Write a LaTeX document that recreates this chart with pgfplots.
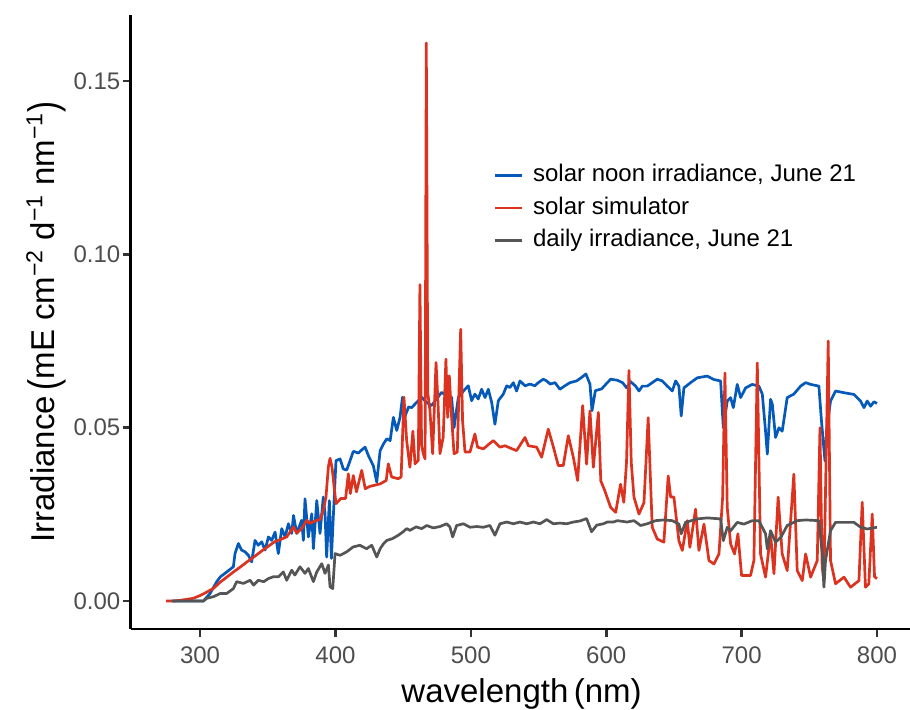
\documentclass[border=0pt]{standalone}
\usepackage{fontspec}
\setmainfont{Liberation Sans}
\usepackage{pgfplots}
\pgfplotsset{compat=1.18}
\definecolor{cblue}{RGB}{5,90,185}
\definecolor{cred}{RGB}{220,50,32}
\definecolor{cgray}{RGB}{85,85,85}
\definecolor{ticklab}{RGB}{77,77,77}
\definecolor{tickcol}{RGB}{51,51,51}
\begin{document}
\begin{tikzpicture}
\begin{axis}[
  scale only axis,
  width=390.9pt, height=307pt,
  xmin=248.75, xmax=826.25, ymin=-0.00805, ymax=0.16905,
  axis x line*=bottom, axis y line*=left,
  axis line style={line width=1.3pt, black, -},
  xtick={300,400,500,600,700,800},
  xticklabels={300,400,500,600,700,800},
  ytick={0,0.05,0.1,0.15},
  yticklabels={0.00,0.05,0.10,0.15},
  tick align=outside,
  major tick length=4pt,
  every tick/.style={line width=1.3pt, tickcol},
  tick label style={font=\fontsize{12}{14}\selectfont, text=ticklab},
  yticklabel style={inner xsep=1pt},
  xticklabel style={inner ysep=4.5pt},
  /pgf/number format/assume math mode=true,
  legend cell align=left,
  legend image code/.code={\draw[#1, line width=1.3pt] (0pt,0pt) -- (13.5pt,0pt);},
  legend style={draw=none, fill=none, at={(rel axis cs:0.4636,0.757)}, anchor=north west,
    font=\fontsize{12}{14}\selectfont, inner sep=0pt, row sep=5.3pt, column sep=2pt,
    nodes={inner xsep=3pt, inner ysep=0pt, text height=8.6pt, text depth=2.4pt}},
  line join=round,
]
\coordinate (SW) at (rel axis cs:0,0);
\coordinate (NE) at (rel axis cs:1,1);
\coordinate (W) at (rel axis cs:0,0.5);
\coordinate (S) at (rel axis cs:0.5,0);

% solar noon irradiance, June 21
\addplot[cblue, line width=1.35pt] coordinates {
(280,0)(290,0)(300,0)(302.4,0)(307.4,0.0022)(312.3,0.0056)(315,0.0070)(319.7,0.0084)
(324.6,0.0099)(325.8,0.0137)(328.3,0.0166)(330.7,0.0147)(333.2,0.0142)(335.7,0.0132)
(338.1,0.0113)(340.6,0.0175)(343,0.0161)(345.5,0.0171)(348,0.0147)(350.5,0.0185)
(352.9,0.0175)(355.4,0.0199)(357.8,0.0137)(360.3,0.0209)(362.8,0.0185)(365.2,0.0223)
(367.7,0.0195)(369,0.0247)(371.4,0.0195)(375,0.0233)(376.3,0.0175)(377.5,0.0295)
(380,0.0185)(382.5,0.0252)(383.7,0.0151)(386.2,0.0290)(388.6,0.0195)(391,0.0300)
(392.3,0.0252)(393.5,0.0127)(395.5,0.0290)(397.0,0.0123)(398.5,0.0250)(400.4,0.0405)
(403.4,0.0410)(405.8,0.0381)(408.3,0.0378)(410.8,0.0405)(413.2,0.0432)(416.9,0.0427)
(419.4,0.0436)(421.9,0.0444)(424.3,0.0420)(428,0.0390)(430.5,0.0343)(433,0.0434)
(435.4,0.0453)(437.9,0.0468)(440.4,0.0463)(442.8,0.0530)(445.3,0.0492)(447.7,0.0530)
(449.5,0.0588)(451.1,0.0530)(454,0.0560)(456.3,0.0558)(459.9,0.0573)(463.7,0.0588)
(467.4,0.0573)(471,0.0564)(474.7,0.0583)(478.4,0.0602)(482.1,0.0592)(485.8,0.0588)
(487.6,0.0500)(490.8,0.0588)(495.7,0.0611)(498.1,0.0621)(500.6,0.0578)(503,0.0597)
(505.5,0.0583)(508,0.0611)(510.5,0.0587)(512.9,0.0611)(515.4,0.0573)(517.8,0.0510)
(520.3,0.0578)(524,0.0597)(526.5,0.0621)(528.9,0.0616)(531.4,0.0630)(533.8,0.0606)
(536.3,0.0635)(540,0.0621)(543.7,0.0626)(547.3,0.0621)(549.8,0.0630)(553.5,0.0640)
(556,0.0635)(558.5,0.0626)(562.2,0.0630)(565.8,0.0611)(569.5,0.0621)(573.2,0.0630)
(578.1,0.0635)(581.8,0.0645)(585,0.0655)(588,0.0626)(589.5,0.0549)(592,0.0607)
(596.6,0.0612)(600.8,0.0630)(603.3,0.0640)(608.2,0.0637)(612.1,0.0630)(615.1,0.0615)
(618.0,0.0633)(621.7,0.0620)(624.2,0.0606)(626.7,0.0620)(630.3,0.0620)(634.0,0.0630)
(637.7,0.0640)(641.4,0.0635)(645.1,0.0620)(648.8,0.0606)(651.3,0.0635)(653.7,0.0620)
(655.4,0.0534)(657.4,0.0615)(662.3,0.0630)(667.3,0.0644)(674.6,0.0649)(679.6,0.0639)
(684.5,0.0635)(686.5,0.0500)(689.4,0.0577)(691.9,0.0587)(693.9,0.0558)(696.8,0.0625)
(699.3,0.0587)(703.0,0.0615)(707.9,0.0625)(712.8,0.0620)(715.3,0.0597)(717.7,0.0490)
(719.0,0.0424)(721.4,0.0582)(722.7,0.0568)(725.1,0.0472)(727.6,0.0500)(730.0,0.0490)
(733.7,0.0587)(738.6,0.0597)(743.6,0.0620)(747.3,0.0630)(751.0,0.0625)(757.1,0.0620)
(759.0,0.0520)(761.6,0.0404)(763.0,0.0500)(765.7,0.0577)(769.4,0.0606)(775.6,0.0601)
(783.0,0.0596)(787.9,0.0577)(790.4,0.0558)(792.8,0.0577)(795.3,0.0562)(797.8,0.0575)
(800.0,0.0570)
};
\addlegendentry{solar noon irradiance, June 21}

% solar simulator
\addplot[cred, line width=1.35pt] coordinates {
(275,0)(280,0)(285,0.0002)(290,0.0005)(295,0.0008)(300,0.0016)(305,0.0026)(310,0.0037)
(315,0.0055)(320,0.0070)(325,0.0085)(330,0.0099)(335,0.0114)(340,0.0128)(345,0.0143)
(350,0.0157)(355,0.0171)(359,0.0177)(364,0.0185)(369,0.0214)(371.4,0.0196)(375,0.0209)
(378.8,0.0233)(381,0.0224)(386,0.0233)(388.6,0.0235)(391,0.0262)(393,0.0300)(394.8,0.0388)
(396,0.0412)(397.5,0.0385)(399,0.0330)(400.4,0.0281)(404,0.0296)(407.5,0.0296)(409.5,0.0367)
(411,0.0310)(413.2,0.0362)(415.5,0.0315)(419.4,0.0377)(422,0.0324)(425.5,0.0331)(433,0.0338)
(437.5,0.0348)(439,0.0396)(441.5,0.0358)(446.4,0.0353)(448.5,0.0358)(450.6,0.0588)(452.6,0.0463)
(455,0.0386)(457.2,0.0490)(458.8,0.0396)(461.2,0.0406)(462.4,0.0913)(463.6,0.0450)(464.9,0.0425)
(466.2,0.0410)(467.1,0.161)(468.2,0.0600)(469.8,0.0550)(471.8,0.0425)(474.3,0.0688)(475.8,0.0568)
(477.2,0.0425)(479.6,0.0473)(481.6,0.0698)(482.9,0.0530)(484.1,0.0650)(485.8,0.0530)(487.6,0.0425)
(490.0,0.0430)(492.5,0.0784)(493.9,0.0520)(495.7,0.0430)(499.4,0.0430)(503.0,0.0482)(505.0,0.0444)
(509.2,0.0439)(516.6,0.0463)(521.5,0.0444)(525.2,0.0448)(530,0.0440)(533.8,0.0434)(540.0,0.0472)
(542.5,0.0448)(548.6,0.0444)(552.3,0.0415)(557.2,0.0496)(561,0.0444)(564.6,0.0391)(568.3,0.0391)
(572.0,0.0477)(575.7,0.0415)(578.9,0.0348)(582.6,0.0564)(585.5,0.0395)(588.0,0.0549)(590.5,0.0386)
(594.2,0.0544)(596.0,0.0347)(599.0,0.0318)(603.3,0.0270)(607.0,0.0256)(610.6,0.0337)(613.0,0.0285)
(615.0,0.0400)(616.8,0.0665)(618.5,0.0400)(620.5,0.0300)(624.2,0.0251)(627.9,0.0284)(631.0,0.0529)
(634.0,0.0213)(637.7,0.0179)(642.6,0.0170)(645.8,0.0361)(647.6,0.0300)(650.0,0.0300)(653.7,0.0174)
(656.2,0.0146)(659.9,0.0232)(661.8,0.0155)(666.0,0.0265)(668.5,0.0146)(672.2,0.0222)(675.9,0.0117)
(679.6,0.0107)(683.3,0.0136)(686.0,0.0300)(687.7,0.0658)(689.4,0.0270)(691.9,0.0165)(694.8,0.0136)
(697.3,0.0194)(700.0,0.0074)(706.6,0.0074)(709.1,0.0117)(711.6,0.0687)(714.0,0.0136)(717.7,0.0069)
(721.4,0.0194)(723.9,0.0079)(727.0,0.0300)(730.0,0.0136)(733.7,0.0088)(738.6,0.0366)(741.1,0.0088)
(744.8,0.0059)(747.3,0.0136)(751.0,0.0069)(755.9,0.0117)(757.9,0.0500)(759.5,0.0100)(760.8,0.0059)
(764.0,0.0750)(765.7,0.0117)(769.4,0.0050)(775.6,0.0069)(780.5,0.0040)(786.7,0.0059)(789.1,0.0285)
(791.5,0.0040)(794.0,0.0050)(796.5,0.0251)(798.2,0.0070)(800.0,0.0065)
};
\addlegendentry{solar simulator}

% daily irradiance, June 21
\addplot[cgray, line width=1.35pt] coordinates {
(279,0)(290,0)(300,0)(302.4,0)(305,0.0008)(310,0.0013)(315,0.0022)(319.7,0.0022)(324.6,0.0036)
(327,0.0056)(332,0.0051)(337,0.0060)(339.5,0.0046)(343,0.0060)(347,0.0056)(350.5,0.0065)
(354,0.0070)(357.8,0.0070)(361.5,0.0084)(364,0.0060)(367.7,0.0089)(370,0.0075)(373.8,0.0099)
(377.5,0.0080)(380,0.0094)(383.7,0.0056)(386.2,0.0084)(389.9,0.0108)(392.3,0.0080)(394.8,0.0104)
(396,0.0041)(398,0.0036)(399.7,0.0137)(403.4,0.0132)(408.3,0.0142)(413,0.0156)(418,0.0161)
(423,0.0151)(426.8,0.0161)(430.5,0.0127)(433,0.0151)(435.4,0.0165)(437.9,0.0175)(442,0.0180)
(446.5,0.0190)(450,0.0200)(452.6,0.0209)(455,0.0204)(459.6,0.0214)(463.7,0.0209)(467.4,0.0218)
(472.3,0.0211)(477.2,0.0215)(482.1,0.0223)(484.5,0.0214)(486.6,0.0185)(489.5,0.0218)(494.5,0.0223)
(499.4,0.0213)(504.3,0.0215)(509.2,0.0213)(514.1,0.0218)(517.8,0.0190)(521.5,0.0223)(526.5,0.0228)
(531.4,0.0223)(536.3,0.0228)(541.3,0.0223)(546.2,0.0228)(551.1,0.0223)(556,0.0235)(561,0.0223)
(565.8,0.0225)(570.8,0.0223)(575.7,0.0228)(580.6,0.0231)(585.5,0.0238)(589.2,0.0200)(593,0.0219)
(597.9,0.0223)(600.8,0.0228)(605.2,0.0228)(608.2,0.0232)(615.5,0.0228)(620.5,0.0232)(625.4,0.0218)
(630.3,0.0223)(636.5,0.0232)(642.6,0.0234)(648.8,0.0232)(653.7,0.0222)(655.4,0.0194)(658.6,0.0227)
(667.3,0.0237)(674.6,0.0240)(684.5,0.0237)(686.5,0.0174)(689.4,0.0213)(691.9,0.0203)(696.8,0.0227)
(701.7,0.0222)(707.9,0.0232)(712.8,0.0232)(717.7,0.0194)(719.0,0.0150)(721.4,0.0203)(725.1,0.0170)
(729.0,0.0184)(733.7,0.0218)(741.1,0.0232)(747.3,0.0234)(757.1,0.0232)(759.6,0.0137)(760.8,0.0040)
(762.0,0.0117)(765.7,0.0203)(769.4,0.0227)(775.6,0.0227)(783.0,0.0227)(787.9,0.0213)(792.8,0.0208)
(800.0,0.0213)
};
\addlegendentry{daily irradiance, June 21}
\end{axis}
\node[anchor=base, font=\fontsize{16.5}{19}\selectfont] at ([yshift=-37pt]S) {wavelength\,(nm)};
\node[rotate=90, anchor=base, font=\fontsize{16.5}{19}\selectfont] at ([xshift=-37.85pt]W)
  {Irradiance\,\raisebox{-0.08em}{\scalebox{1}[1.25]{(}}mE cm\textsuperscript{−2} d\textsuperscript{−1} nm\textsuperscript{−1}\raisebox{-0.08em}{\scalebox{1}[1.25]{)}}};
\pgfresetboundingbox
\path ([shift={(-65.35pt,-40.5pt)}]SW) rectangle ([shift={(-1.25pt,7.5pt)}]NE);
\end{tikzpicture}
\end{document}
